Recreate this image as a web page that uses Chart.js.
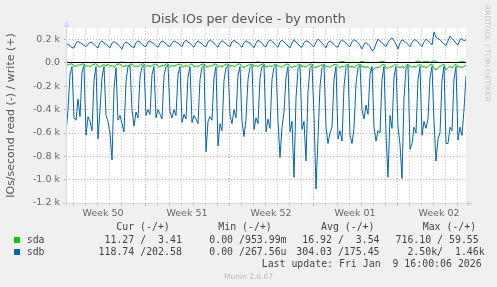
<!DOCTYPE html>
<html>
<head>
<meta charset="utf-8">
<title>Disk IOs per device - by month</title>
<script src="https://cdn.jsdelivr.net/npm/chart.js@4.4.1/dist/chart.umd.min.js"></script>
<style>
    html, body { margin: 0; padding: 0; background: #f0f0f0; }
    #wrap { position: relative; width: 497px; height: 287px; overflow: hidden; }
    #chartCanvas { position: absolute; left: 0; top: 0; }
    .txt { position: absolute; white-space: pre; }
    .title { left: 0; width: 497px; text-align: center; top: 10.8px; font: 12.6px 'DejaVu Sans'; line-height: 15px; color: #555; }
    .leg { font: 9.9px 'DejaVu Sans Mono'; line-height: 12px; color: #444; }
    .box { position: absolute; width: 6px; height: 6px; }
    .side { font: 7.5px 'DejaVu Sans'; line-height: 8px; color: #c8c8c8; transform-origin: 0 0; transform: rotate(90deg); }
    .munin { left: 0; width: 497px; text-align: center; font: 7.5px 'DejaVu Sans'; line-height: 9px; color: #bbb; }
</style>
</head>
<body>
<div id="wrap">
    <canvas id="chartCanvas" width="497" height="287"></canvas>
    <div class="txt title">Disk IOs per device - by month</div>
    <div class="txt side" style="left:491.4px; top:5px;">RRDTOOL / TOBI OETIKER</div>
    <div id="legend"></div>
    <div class="txt leg" style="left:261.7px; top:257.5px;">Last update: Fri Jan  9 16:00:06 2026</div>
    <div class="txt munin" style="top:272px;">Munin 2.0.67</div>
</div>
<script>
// time axis in hours after Mon 8 Dec 00:00
const FIRST_HOUR = 10;
const SPAN_HOURS = 800;
const STEP = 4;
const SDA_WRITE_STEP = 8;

const weekLabels = ['Week 50', 'Week 51', 'Week 52', 'Week 01', 'Week 02'];
const yTicks = [-1200, -1100, -1000, -900, -800, -700, -600, -500, -400, -300, -200, -100, 0, 100, 200, 300];

const seriesNames = ['sda', 'sdb'];
const seriesColors = ['#00cc00', '#0066b3'];
const legendHeaders = ['Cur (-/+)', 'Min (-/+)', 'Avg (-/+)', 'Max (-/+)'];
const curText = [' 11.27 /  3.41 ', '118.74 /202.58 '];
const minText = ['  0.00 /953.99m', '  0.00 /267.56u'];
const avgText = [' 16.92 /  3.54 ', '304.03 /175.45 '];
const maxText = ['716.10 / 59.55 ', '  2.50k/  1.46k'];

// IOs/s, one value every 4h
const sdbRead = [
    -600, -400, -100, -30,
    -470, -490, -310, -460, -80, -20,
    -620, -460, -500, -580, -150, -30,
    -650, -400, -120, -30, -450, -500,
    -600, -830, -220, -40, -490, -450,
    -520, -590, -160, -30, -20, -400,
    -540, -420, -470, -120, -30, -20,
    -450, -400, -440, -100, -30, -470,
    -400, -440, -480, -110, -30, -20,
    -420, -470, -400, -450, -100, -30,
    -510, -440, -480, -120, -30, -510,
    -450, -480, -520, -140, -40, -20,
    -760, -500, -460, -490, -120, -30,
    -710, -520, -580, -150, -40, -20,
    -450, -520, -400, -470, -100, -30,
    -500, -630, -480, -140, -40, -20,
    -570, -470, -520, -130, -30, -20,
    -590, -480, -560, -140, -40, -20,
    -500, -810, -550, -420, -120, -30,
    -590, -500, -980, -300, -50, -20,
    -570, -500, -840, -250, -40, -20,
    -450, -1080, -640, -200, -40, -20,
    -550, -690, -600, -550, -140, -30,
    -650, -580, -670, -200, -40, -20,
    -620, -690, -560, -180, -40, -20,
    -400, -480, -360, -440, -100, -30,
    -550, -670, -580, -600, -140, -30,
    -600, -980, -450, -560, -120, -30,
    -550, -700, -990, -300, -50, -20,
    -740, -690, -550, -600, -140, -30,
    -620, -500, -560, -480, -120, -30,
    -500, -840, -650, -600, -150, -30,
    -690, -690, -550, -580, -140, -30,
    -660, -550, -620, -400, -110
];

const sdbWrite = [
    170, 160, 150, 130,
    130, 170, 185, 175, 165, 150,
    140, 160, 180, 175, 160, 140,
    130, 175, 190, 170, 160, 145,
    130, 170, 185, 170, 160, 140,
    120, 165, 180, 170, 155, 140,
    130, 175, 190, 180, 160, 145,
    140, 180, 190, 175, 165, 150,
    135, 170, 190, 180, 165, 150,
    140, 175, 190, 180, 170, 155,
    140, 180, 195, 180, 170, 150,
    135, 170, 190, 175, 165, 145,
    140, 180, 200, 185, 170, 150,
    135, 175, 190, 180, 165, 150,
    140, 180, 195, 180, 170, 150,
    135, 175, 190, 180, 170, 150,
    130, 170, 195, 185, 170, 145,
    140, 180, 200, 185, 170, 150,
    135, 180, 195, 180, 165, 145,
    130, 170, 200, 180, 165, 140,
    135, 175, 190, 185, 170, 150,
    140, 180, 205, 190, 170, 150,
    130, 175, 190, 175, 160, 140,
    135, 180, 200, 185, 170, 150,
    140, 185, 200, 190, 175, 150,
    120, 160, 175, 160, 140, 105,
    115, 165, 205, 190, 175, 155,
    140, 180, 200, 215, 190, 160,
    120, 170, 200, 190, 175, 160,
    140, 175, 200, 195, 180, 160,
    140, 180, 205, 190, 175, 155,
    265, 220, 210, 200, 180, 165,
    150, 190, 230, 210, 190, 170,
    155, 200, 210, 190, 200
];

const sdaRead = [
    -20, -15, -10, -8,
    -25, -30, -15, -20, -10, -8,
    -30, -22, -35, -18, -12, -6,
    -28, -35, -20, -15, -25, -10,
    -30, -20, -38, -15, -10, -8,
    -25, -32, -18, -28, -12, -8,
    -30, -25, -35, -20, -10, -7,
    -28, -20, -30, -22, -12, -9,
    -26, -34, -18, -25, -10, -8,
    -30, -22, -28, -18, -15, -8,
    -25, -35, -20, -30, -12, -9,
    -32, -24, -30, -18, -11, -8,
    -28, -36, -22, -26, -14, -8,
    -30, -24, -33, -20, -12, -9,
    -27, -20, -35, -22, -10, -8,
    -30, -38, -25, -20, -14, -9,
    -26, -22, -30, -18, -12, -8,
    -35, -28, -24, -30, -15, -9,
    -30, -25, -38, -22, -13, -8,
    -28, -40, -26, -30, -15, -10,
    -32, -26, -35, -20, -12, -8,
    -30, -42, -28, -24, -15, -9,
    -34, -26, -38, -22, -14, -10,
    -30, -45, -28, -32, -16, -10,
    -36, -28, -40, -25, -15, -9,
    -35, -28, -40, -30, -50, -68,
    -55, -35, -42, -30, -16, -10,
    -38, -48, -30, -36, -18, -12,
    -32, -40, -28, -45, -20, -11,
    -30, -36, -26, -38, -18, -12,
    -35, -28, -45, -30, -16, -10,
    -42, -60, -38, -30, -18, -12,
    -60, -40, -30, -44, -20, -12,
    -36, -28, -40, -30, -18
];

// one value every 8h
const sdaWrite = [
    3, 4, 3, 5, 3, 4, 3, 6, 3, 4,
    3, 5, 4, 3, 8, 3, 4, 3, 5, 3,
    4, 3, 6, 3, 4, 3, 5, 4, 3, 4,
    3, 5, 3, 4, 7, 3, 4, 3, 5, 3,
    4, 3, 6, 4, 3, 5, 3, 4, 9, 3,
    4, 3, 5, 3, 4, 6, 3, 4, 3, 5,
    3, 4, 7, 3, 4, 3, 5, 4, 3, 15,
    4, 3, 5, 3, 14, 4, 3, 5, 3, 16,
    4, 3, 5, 4, 3, 6, 3, 4, 18, 4,
    17, 4, 20, 5, 3, 4, 6, 3, 4, 14, 5
];

const MINOR = 'rgba(150,150,150,0.45)';
const MAJOR = 'rgba(222,79,79,0.5)';
const AXIS = '#cfd6f8';

function toPoints(values, step) {
    return values.map((v, i) => ({ x: FIRST_HOUR + i * step, y: v }));
}

function xGridColor(ctx) {
    const v = ctx.tick ? ctx.tick.value : 1;
    if (v % 168 === 0) return MAJOR;
    if (v % 24 === 0) return MINOR;
    return 'rgba(0,0,0,0)';
}

function yGridColor(ctx) {
    const v = ctx.tick ? ctx.tick.value : 1;
    if (v === 0) return 'rgba(0,0,0,0)';
    return v % 200 === 0 ? MAJOR : MINOR;
}

function yTickLabel(v) {
    if (v % 200 !== 0) return '';
    if (v === 0) return '0.0';
    return (v / 1000).toFixed(1) + ' k';
}

const muninFrame = {
    id: 'muninFrame',
    beforeDraw(chart) {
        const { ctx, chartArea: a } = chart;
        ctx.save();
        ctx.fillStyle = '#ffffff';
        ctx.fillRect(a.left, a.top, a.right - a.left, a.bottom - a.top);
        ctx.restore();
    },
    afterDatasetsDraw(chart) {
        const { ctx, chartArea: a } = chart;
        const y0 = Math.floor(chart.scales.y.getPixelForValue(0)) + 0.5;
        ctx.save();
        ctx.strokeStyle = '#000000';
        ctx.lineWidth = 1;
        ctx.beginPath();
        ctx.moveTo(a.left, y0);
        ctx.lineTo(a.right, y0);
        ctx.stroke();

        const ax = a.left + 0.5;
        const ay = a.bottom + 0.5;
        ctx.strokeStyle = AXIS;
        ctx.fillStyle = AXIS;
        ctx.beginPath();
        ctx.moveTo(ax, a.bottom + 3);
        ctx.lineTo(ax, a.top - 2);
        ctx.moveTo(a.left - 3, ay);
        ctx.lineTo(a.right + 3, ay);
        ctx.stroke();
        ctx.beginPath();
        ctx.moveTo(ax, a.top - 7);
        ctx.lineTo(ax - 3, a.top - 1);
        ctx.lineTo(ax + 3, a.top - 1);
        ctx.closePath();
        ctx.fill();
        ctx.beginPath();
        ctx.moveTo(a.right + 7, ay);
        ctx.lineTo(a.right + 1, ay - 3);
        ctx.lineTo(a.right + 1, ay + 3);
        ctx.closePath();
        ctx.fill();
        ctx.restore();
    }
};

function buildLegend() {
    const holder = document.getElementById('legend');
    const headerX = [116.3, 218.3, 321, 422.7];
    const colX = [98.6, 197.4, 296.3, 395.5];
    const rowTop = [234.1, 245.9];
    let html = '';
    legendHeaders.forEach((h, j) => {
        html += `<div class="txt leg" style="left:${headerX[j]}px; top:221.4px;">${h}</div>`;
    });
    seriesNames.forEach((name, r) => {
        const cells = [curText[r], minText[r], avgText[r], maxText[r]];
        html += `<div class="box" style="left:14px; top:${rowTop[r] + 3}px; background:${seriesColors[r]};"></div>`;
        html += `<div class="txt leg" style="left:26.7px; top:${rowTop[r]}px;">${name}</div>`;
        cells.forEach((c, j) => {
            html += `<div class="txt leg" style="left:${colX[j]}px; top:${rowTop[r]}px;">${c}</div>`;
        });
    });
    holder.innerHTML = html;
}

function renderChart() {
    const canvas = document.getElementById('chartCanvas');
    const tickFont = { family: 'DejaVu Sans', size: 9.5 };
    const line = (label, data, color) => ({
        label, data, borderColor: color, borderWidth: 1,
        pointRadius: 0, tension: 0, fill: false
    });

    new Chart(canvas.getContext('2d'), {
        type: 'line',
        data: {
            // first dataset is painted last
            datasets: [
                line('sdb write', toPoints(sdbWrite, STEP), seriesColors[1]),
                line('sda write', toPoints(sdaWrite, SDA_WRITE_STEP), seriesColors[0]),
                line('sdb read', toPoints(sdbRead, STEP), seriesColors[1]),
                line('sda read', toPoints(sdaRead, STEP), seriesColors[0])
            ]
        },
        options: {
            responsive: false,
            animation: false,
            devicePixelRatio: 1,
            layout: { padding: { left: 0, top: 28, right: 31, bottom: 64 } },
            plugins: { legend: { display: false }, tooltip: { enabled: false }, title: { display: false } },
            scales: {
                x: {
                    type: 'linear',
                    min: FIRST_HOUR,
                    max: FIRST_HOUR + SPAN_HOURS,
                    afterBuildTicks: (scale) => {
                        const ticks = [];
                        for (let h = 24; h <= FIRST_HOUR + SPAN_HOURS; h += 24) ticks.push({ value: h });
                        weekLabels.forEach((_, j) => ticks.push({ value: 84 + 168 * j }));
                        ticks.sort((a, b) => a.value - b.value);
                        scale.ticks = ticks;
                    },
                    afterFit: (scale) => { scale.height = 20; },
                    grid: { color: xGridColor, tickColor: xGridColor, tickLength: 3, tickBorderDash: [] },
                    border: { display: false, dash: [1, 2] },
                    ticks: {
                        autoSkip: false, maxRotation: 0, minRotation: 0, padding: 2,
                        color: '#666', font: tickFont,
                        callback: (v) => v % 24 === 0 ? '' : weekLabels[Math.round((v - 84) / 168)]
                    }
                },
                y: {
                    min: -1200,
                    max: 300,
                    afterBuildTicks: (scale) => { scale.ticks = yTicks.map(v => ({ value: v })); },
                    afterFit: (scale) => { scale.width = 66; },
                    grid: { color: yGridColor, tickColor: (c) => c.tick && c.tick.value === 0 ? MAJOR : yGridColor(c), tickLength: 2, tickBorderDash: [] },
                    border: { display: false, dash: [1, 2] },
                    ticks: { padding: 4, color: '#666', font: tickFont, callback: yTickLabel },
                    title: {
                        display: true,
                        text: 'IOs/second read (-) / write (+)',
                        color: '#555',
                        font: { family: 'DejaVu Sans', size: 11 },
                        padding: { top: 4.5, bottom: 0 }
                    }
                }
            }
        },
        plugins: [muninFrame]
    });
}

buildLegend();
renderChart();
</script>
</body>
</html>
